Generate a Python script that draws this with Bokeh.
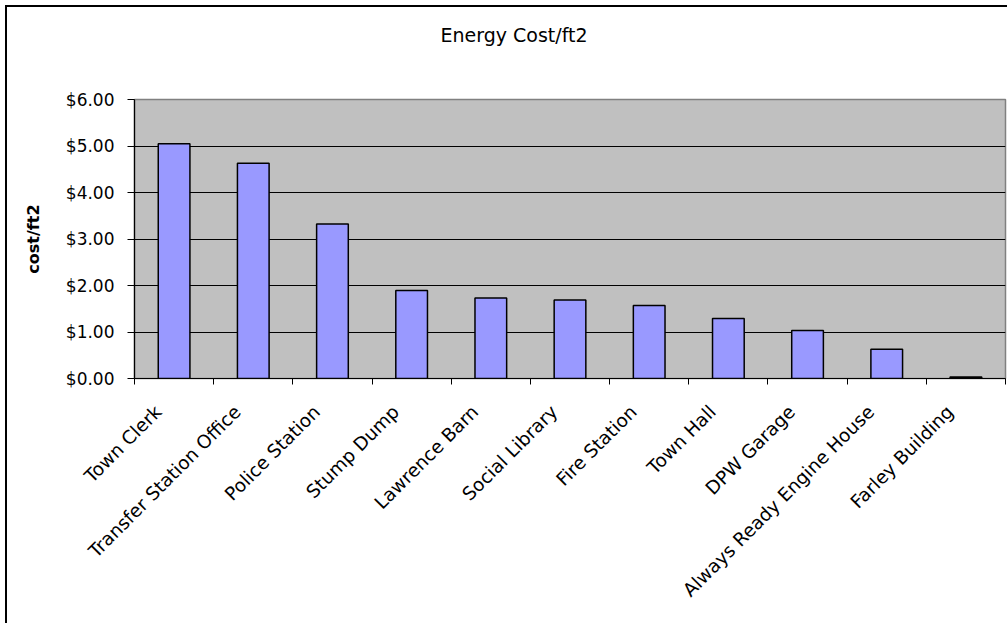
import math
import numpy as np
from bokeh.plotting import figure
from bokeh.models import Range1d, FixedTicker, NumeralTickFormatter, Title
from bokeh.embed import file_html
from bokeh.resources import INLINE

categories = ["Town Clerk", "Transfer Station Office", "Police Station", "Stump Dump",
              "Lawrence Barn", "Social Library", "Fire Station", "Town Hall",
              "DPW Garage", "Always Ready Engine House", "Farley Building"]
cost_per_ft2 = [5.05, 4.63, 3.32, 1.89, 1.73, 1.69, 1.57, 1.29, 1.03, 0.63, 0.03]
y_ticks = [0, 1, 2, 3, 4, 5, 6]
chart_title = "Energy Cost/ft2"

FONT = "DejaVu Sans"

n = len(categories)
centers = [i + 0.5 for i in range(n)]
bounds = list(range(n + 1))
label_pos = [c - 0.2 for c in centers]

p = figure(width=1007, height=623, output_backend="svg", toolbar_location=None,
           x_range=Range1d(0, n), y_range=Range1d(0, 6),
           min_border_left=134, min_border_right=2, min_border_top=99,
           min_border_bottom=245,
           background_fill_color="#C0C0C0", border_fill_color=None,
           outline_line_color="#808080", outline_line_width=1.5,
           styles={"box-shadow": "inset 5px 5px 0 0 #ffffff, inset 7px 7px 0 0 #000000"})

p.title.text = ""

# spacer between frame and title (nearest the frame)
spacer = Title(text=" ", text_font=FONT, text_font_size="18px", standoff=31)
# actual title (outermost)
ttl = Title(text=chart_title, align="left", offset=306, standoff=0,
            text_font=FONT, text_font_size="19px", text_font_style="normal",
            text_color="#000000", vertical_align="bottom")
p.add_layout(spacer, "above")
p.add_layout(ttl, "above")

p.vbar(x=centers, top=cost_per_ft2, width=0.4, fill_color="#9999FF",
       line_color="#000000", line_width=1.5)

# grid
p.xgrid.visible = False
p.ygrid.ticker = FixedTicker(ticks=y_ticks[1:-1])
p.ygrid.grid_line_color = "#000000"
p.ygrid.grid_line_width = 1

# y axis
ya = p.yaxis[0]
ya.ticker = FixedTicker(ticks=y_ticks)
ya.formatter = NumeralTickFormatter(format="$0.00")
ya.axis_line_color = "#000000"
ya.axis_line_width = 1.2
ya.major_tick_out = 7
ya.major_tick_in = 0
ya.major_tick_line_color = "#000000"
ya.minor_tick_line_color = None
ya.major_label_standoff = 13
ya.major_label_text_font = FONT
ya.major_label_text_font_size = "17px"
ya.major_label_text_color = "#000000"
ya.axis_label = "cost/ft2"
ya.axis_label_text_font = FONT
ya.axis_label_text_font_size = "16px"
ya.axis_label_text_font_style = "bold"
ya.axis_label_text_color = "#000000"
ya.axis_label_standoff = 20

# x axis
xa = p.xaxis[0]
xa.ticker = FixedTicker(ticks=label_pos, minor_ticks=bounds)
xa.major_label_overrides = {float(c): name for c, name in zip(label_pos, categories)}
xa.axis_line_color = "#000000"
xa.axis_line_width = 1.2
xa.major_tick_out = 0
xa.major_tick_in = 0
xa.major_tick_line_color = None
xa.minor_tick_out = 6
xa.minor_tick_in = 0
xa.minor_tick_line_color = "#000000"
xa.major_label_orientation = math.pi / 4
xa.major_label_standoff = 24
xa.major_label_text_font = FONT
xa.major_label_text_font_size = "18.5px"
xa.major_label_text_color = "#000000"

open("out.html", "w").write(file_html(p, INLINE))
